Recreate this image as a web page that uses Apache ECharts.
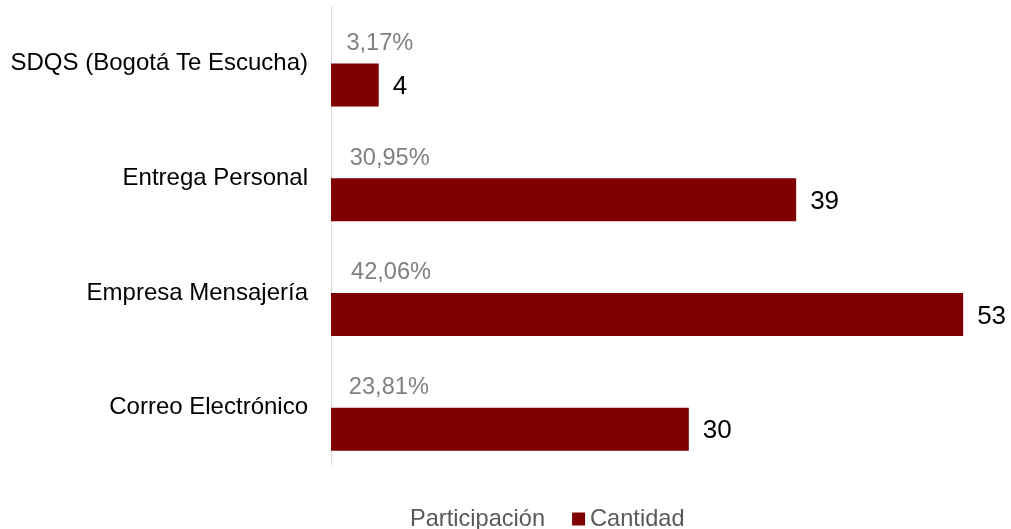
<!DOCTYPE html>
<html>
<head>
<meta charset="utf-8">
<script src="https://cdn.jsdelivr.net/npm/echarts@6/dist/echarts.min.js"></script>
<style>
  html, body { margin: 0; padding: 0; background: #ffffff; }
  #chart { width: 1011px; height: 529px; }
</style>
</head>
<body>
<div id="chart"></div>
<script>
// Channels through which requests were received (top to bottom)
const categories = ['SDQS (Bogotá Te Escucha)', 'Entrega Personal', 'Empresa Mensajería', 'Correo Electrónico'];
// Number of requests per channel
const cantidad = [4, 39, 53, 30];
// Share of the total, in percent
const participacion = [3.17, 30.95, 42.06, 23.81];

const FONT = '"Liberation Sans", Arial, sans-serif';

const chart = echarts.init(document.getElementById('chart'), null, { renderer: 'canvas' });

chart.setOption({
  animation: false,
  backgroundColor: '#ffffff',
  textStyle: { fontFamily: FONT },
  grid: { left: 331, top: 6, width: 656, height: 459, containLabel: false },
  xAxis: {
    type: 'value',
    min: 0,
    max: 55,
    show: false,
    splitLine: { show: false }
  },
  yAxis: {
    type: 'category',
    inverse: true,
    data: categories,
    axisLine: { show: true, lineStyle: { color: '#d9d9d9', width: 1 } },
    axisTick: { show: false },
    axisLabel: { margin: 23, fontSize: 24, color: '#000000', fontFamily: FONT }
  },
  legend: {
    left: 387,
    top: 501,
    itemWidth: 13,
    itemHeight: 13,
    itemGap: 27,
    icon: 'rect',
    data: ['Participación', 'Cantidad'],
    textStyle: { fontSize: 23.6, color: '#595959', fontFamily: FONT, lineHeight: 26 }
  },
  series: [
    {
      name: 'Participación',
      type: 'bar',
      barWidth: 43,
      barGap: '0%',
      data: participacion.map(p => p / 100),
      itemStyle: { color: 'rgba(0,0,0,0)' },
      label: {
        show: true,
        position: 'right',
        distance: 15,
        offset: [0, 1.5],
        fontSize: 23.6,
        color: '#808080',
        fontFamily: FONT,
        formatter: (d) => participacion[d.dataIndex].toFixed(2).replace('.', ',') + '%'
      }
    },
    {
      name: 'Cantidad',
      type: 'bar',
      barWidth: 43,
      barGap: '0%',
      data: cantidad,
      itemStyle: { color: '#800000' },
      label: {
        show: true,
        position: 'right',
        distance: 14,
        offset: [0, 2],
        fontSize: 26,
        color: '#000000',
        fontFamily: FONT
      }
    }
  ]
});
</script>
</body>
</html>
